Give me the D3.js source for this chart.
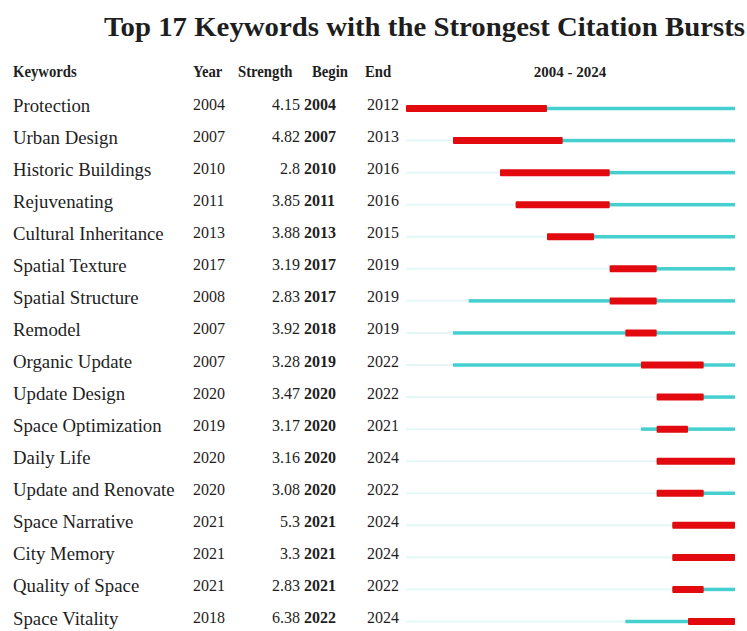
<!DOCTYPE html>
<html>
<head>
<meta charset="utf-8">
<script src="https://cdn.jsdelivr.net/npm/d3@7"></script>
<style>
html,body{margin:0;padding:0;background:#fff;}
svg{display:block;}
text{font-family:"Liberation Serif","DejaVu Serif",serif;fill:#1e1e1e;}
</style>
</head>
<body>
<svg id="chart" width="747" height="631"></svg>
<script>
const keywords = ["Protection","Urban Design","Historic Buildings","Rejuvenating","Cultural Inheritance","Spatial Texture","Spatial Structure","Remodel","Organic Update","Update Design","Space Optimization","Daily Life","Update and Renovate","Space Narrative","City Memory","Quality of Space","Space Vitality"];
const years = [2004,2007,2010,2011,2013,2017,2008,2007,2007,2020,2019,2020,2020,2021,2021,2021,2018];
const strengths = ["4.15","4.82","2.8","3.85","3.88","3.19","2.83","3.92","3.28","3.47","3.17","3.16","3.08","5.3","3.3","2.83","6.38"];
const begins = [2004,2007,2010,2011,2013,2017,2017,2018,2019,2020,2020,2020,2020,2021,2021,2021,2022];
const ends = [2012,2013,2016,2016,2015,2019,2019,2019,2022,2022,2021,2024,2022,2024,2024,2022,2024];
const headers = ["Keywords","Year","Strength","Begin","End"];
const startYear = 2004, endYear = 2024;

const rows = keywords.map((k,i)=>({k, year:years[i], s:strengths[i], b:begins[i], e:ends[i], i}));

const svg = d3.select("#chart");
const x = d3.scaleLinear().domain([startYear, endYear+1]).range([406, 735]);
const y = d3.scaleLinear().domain([0, keywords.length-1]).range([108.5, 621.5]);

// title
svg.append("text").attr("x",104).attr("y",36)
  .attr("font-size",28).attr("font-weight","bold")
  .attr("textLength",641).attr("lengthAdjust","spacingAndGlyphs")
  .text("Top 17 Keywords with the Strongest Citation Bursts");

// headers
const hx = [13,193,238,312,365];
svg.selectAll("text.hdr").data(headers).enter().append("text")
  .attr("class","hdr").attr("x",(d,i)=>hx[i]).attr("y",77)
  .attr("font-size",16).attr("font-weight","bold")
  .attr("transform",(d,i)=>`translate(${hx[i]},0) scale(0.92,1) translate(${-hx[i]},0)`)
  .text(d=>d);
svg.append("text").attr("x",570).attr("y",77).attr("text-anchor","middle")
  .attr("font-size",15).attr("font-weight","bold")
  .text(`${startYear} - ${endYear}`);

const g = svg.selectAll("g.row").data(rows).enter().append("g").attr("class","row");
g.append("text").attr("x",13).attr("y",d=>y(d.i)+3).attr("font-size",18.8).text(d=>d.k);
g.append("text").attr("x",193).attr("y",d=>y(d.i)+1.5).attr("font-size",16).text(d=>d.year);
g.append("text").attr("x",300).attr("y",d=>y(d.i)+1.5).attr("font-size",16).attr("text-anchor","end").text(d=>d.s);
g.append("text").attr("x",304).attr("y",d=>y(d.i)+1.5).attr("font-size",16).attr("font-weight","bold").text(d=>d.b);
g.append("text").attr("x",367).attr("y",d=>y(d.i)+1.5).attr("font-size",16).text(d=>d.e);

// faint line before keyword appears
g.append("rect").attr("x",x(startYear)).attr("y",d=>y(d.i)-1)
  .attr("width",d=>x(d.year)-x(startYear)).attr("height",2).attr("fill","#e4f7f7");
// cyan line from keyword year
g.append("rect").attr("x",d=>x(d.year)).attr("y",d=>y(d.i)-1.75)
  .attr("width",d=>x(endYear+1)-x(d.year)).attr("height",3.5).attr("fill","#45cfcf");
// red burst
g.append("rect").attr("x",d=>x(d.b)).attr("y",d=>y(d.i)-3.5)
  .attr("width",d=>x(d.e+1)-x(d.b)).attr("height",7).attr("rx",1).attr("fill","#e20a0f");
</script>
</body>
</html>
